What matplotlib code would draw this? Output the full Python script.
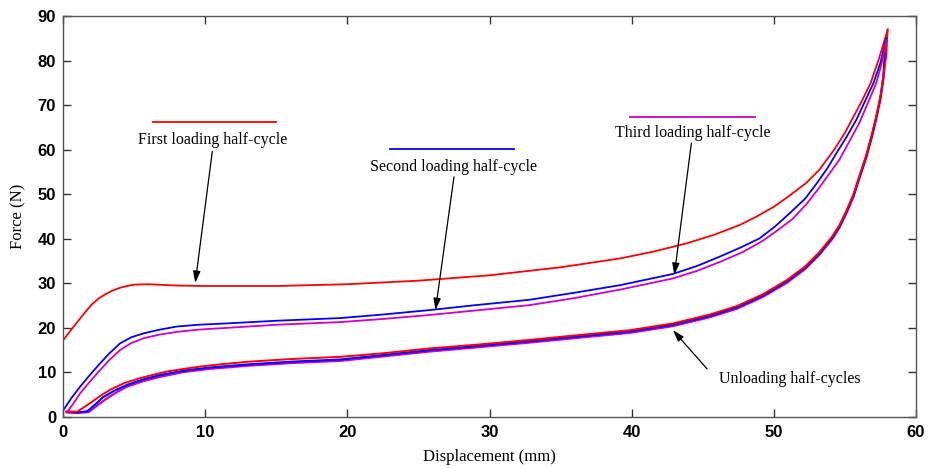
import matplotlib
matplotlib.use("Agg")
import matplotlib.pyplot as plt

# ---- data ----
load1_x = [0, 0.5, 1, 1.5, 2, 2.5, 3, 3.5, 4, 4.5, 5, 6, 8, 10, 15, 20, 25, 30, 35, 39.2, 41.5, 43.9, 45.8, 47.6, 48.8, 50.0, 50.9, 52.3, 53.2, 54.2, 55.0, 55.6, 56.2, 56.8, 57.4, 58.0]
load1_y = [17.2, 19.3, 21.3, 23.3, 25.2, 26.6, 27.6, 28.4, 29.0, 29.4, 29.7, 29.8, 29.5, 29.4, 29.4, 29.8, 30.6, 31.8, 33.6, 35.6, 37.1, 39.0, 40.9, 43.1, 45.0, 47.2, 49.2, 52.6, 55.5, 59.8, 63.8, 67.4, 71.0, 74.9, 80.5, 86.8]

load2_x = [0.1, 0.6, 1.2, 1.8, 2.4, 3.2, 4.0, 4.8, 5.7, 6.8, 8.0, 9.5, 11.5, 15, 19.5, 22.5, 25.8, 29, 32.8, 36, 39.2, 42.9, 44.6, 46.2, 47.7, 49.0, 50.1, 51.1, 52.2, 53.1, 53.8, 54.4, 55.1, 55.8, 56.4, 57.0, 57.5, 57.9]
load2_y = [1.9, 4.3, 6.8, 9.1, 11.3, 14.1, 16.5, 17.9, 18.8, 19.6, 20.3, 20.7, 21.0, 21.6, 22.2, 23.0, 24.0, 25.1, 26.3, 27.9, 29.6, 32.1, 33.9, 36.0, 38.1, 40.1, 42.8, 45.7, 49.0, 52.8, 56.0, 59.2, 62.8, 66.7, 70.8, 74.9, 79.5, 85.0]

load3_x = [0.3, 0.7, 1.2, 1.8, 2.4, 3.2, 4.0, 4.8, 5.7, 6.8, 8.0, 9.5, 11.5, 15, 19.5, 22.5, 25.8, 29, 32.8, 36, 39.2, 42.9, 44.6, 46.2, 47.8, 49.2, 50.3, 51.3, 52.3, 53.2, 53.9, 54.6, 55.3, 56.0, 56.6, 57.2, 57.6, 57.9]
load3_y = [1.2, 2.9, 5.3, 7.6, 9.8, 12.6, 15.0, 16.6, 17.7, 18.5, 19.1, 19.6, 20.0, 20.7, 21.3, 22.0, 22.9, 23.9, 25.1, 26.7, 28.6, 31.1, 32.8, 34.8, 37.0, 39.5, 42.0, 44.4, 47.8, 51.5, 54.6, 57.7, 61.8, 65.9, 70.4, 74.9, 79.5, 84.5]

unl1_x = [0.2, 1.0, 1.9, 2.6, 3.3, 4.3, 5.4, 6.5, 7.3, 8.5, 9.6, 11, 13, 16, 19.5, 22.5, 25.8, 29, 32.8, 36, 39.9, 42.9, 45.5, 47.4, 49.2, 50.9, 52.2, 53.2, 54.1, 54.6, 55.1, 55.6, 56.0, 56.5, 56.9, 57.2, 57.5, 57.7, 57.9, 58.0]
unl1_y = [1.2, 1.2, 3.1, 4.7, 6.1, 7.6, 8.7, 9.6, 10.2, 10.8, 11.3, 11.8, 12.4, 13.0, 13.5, 14.3, 15.4, 16.2, 17.3, 18.3, 19.5, 21.0, 23.0, 24.9, 27.5, 30.7, 33.8, 37.0, 40.5, 43.0, 46.3, 50.0, 54.0, 58.8, 63.5, 67.5, 72.0, 76.5, 81.0, 87.0]

unl2_x = [0.3, 1.0, 1.7, 2.3, 2.8, 3.6, 4.5, 5.6, 6.8, 8.5, 10.3, 13, 16, 19.5, 22.5, 25.8, 29, 32.8, 36, 39.9, 42.9, 45.5, 47.4, 49.2, 50.9, 52.2, 53.2, 54.1, 54.6, 55.1, 55.6, 56.0, 56.5, 56.9, 57.2, 57.5, 57.7, 57.9]
unl2_y = [1.2, 1.0, 1.3, 2.9, 4.4, 5.9, 7.2, 8.4, 9.4, 10.4, 11.1, 11.8, 12.4, 12.9, 13.9, 15.0, 15.9, 17.0, 18.0, 19.2, 20.7, 22.7, 24.6, 27.2, 30.4, 33.5, 36.7, 40.2, 42.7, 46.0, 49.7, 53.7, 58.5, 63.2, 67.2, 71.7, 76.2, 85.0]

unl3_x = [0.3, 1.0, 1.8, 2.5, 3.1, 3.8, 4.5, 5.6, 6.8, 8.5, 10.3, 13, 16, 19.5, 22.5, 25.8, 29, 32.8, 36, 39.9, 42.9, 45.5, 47.4, 49.2, 50.9, 52.2, 53.2, 54.1, 54.6, 55.1, 55.6, 56.0, 56.5, 56.9, 57.2, 57.5, 57.7, 57.9]
unl3_y = [1.0, 0.9, 1.1, 2.8, 4.2, 5.6, 6.8, 8.0, 9.0, 10.1, 10.8, 11.5, 12.1, 12.6, 13.6, 14.7, 15.6, 16.7, 17.7, 18.9, 20.4, 22.4, 24.3, 26.9, 30.1, 33.2, 36.4, 39.9, 42.4, 45.7, 49.4, 53.4, 58.2, 62.9, 66.9, 71.4, 75.9, 84.5]

x_ticks = [0, 10, 20, 30, 40, 50, 60]
y_ticks = [0, 10, 20, 30, 40, 50, 60, 70, 80, 90]

labels = ["First loading half-cycle", "Second loading half-cycle",
          "Third loading half-cycle", "Unloading half-cycles"]
label_pos = [(10.5, 62.2), (27.5, 56.1), (44.3, 63.7), (51.1, 8.5)]
key_lines = [((6.3, 15.0), 66.2, "#ff0000"), ((23.0, 31.7), 60.1, "#0000ff"), ((39.9, 48.7), 67.4, "#cc00cc")]
arrow_from = [(10.5, 59.6), (27.5, 53.9), (44.2, 61.5), (45.3, 10.8)]
arrow_to = [(9.3, 30.1), (26.2, 24.0), (43.0, 31.9), (42.9, 19.5)]

RED, BLUE, MAG = "#ff0000", "#0000ff", "#cc00cc"

fig = plt.figure(figsize=(9.31, 4.68), dpi=100)
ax = fig.add_axes([0.0677, 0.109, 0.9162, 0.8568])

ax.plot(unl3_x, unl3_y, color=MAG, lw=1.6)
ax.plot(unl2_x, unl2_y, color=BLUE, lw=1.5)
ax.plot(unl1_x, unl1_y, color=RED, lw=1.4)
ax.plot(load1_x, load1_y, color=RED, lw=1.3)
ax.plot(load2_x, load2_y, color=BLUE, lw=1.3)
ax.plot(load3_x, load3_y, color=MAG, lw=1.3)

for (xr, yv, c) in key_lines:
    ax.plot(xr, [yv, yv], color=c, lw=1.3)

serif = ["Liberation Serif", "DejaVu Serif"]
for lab, (tx, ty) in zip(labels, label_pos):
    ax.text(tx, ty, lab, ha="center", va="center", fontsize=11.5, family=serif)

for s, e in zip(arrow_from, arrow_to):
    ax.annotate("", xy=e, xytext=s,
                arrowprops=dict(arrowstyle="-|>,head_length=0.7,head_width=0.22",
                                color="black", lw=0.9, shrinkA=0, shrinkB=0))

ax.set_xlim(0, 60)
ax.set_ylim(0, 90)
ax.set_xticks(x_ticks)
ax.set_yticks(y_ticks)
ax.tick_params(direction="in", length=6, width=1, top=True, right=True,
               labelsize=12, color="#333333")
ax.tick_params(axis="x", pad=6)
ax.tick_params(axis="y", pad=5)
for lab in ax.get_xticklabels() + ax.get_yticklabels():
    lab.set_family(["Liberation Sans", "DejaVu Sans"])
    lab.set_fontweight("bold")
for sp in ax.spines.values():
    sp.set_color("#555555")
    sp.set_linewidth(1.0)

ax.set_xlabel("Displacement (mm)", fontsize=12, family=serif, labelpad=6)
ax.set_ylabel("Force (N)", fontsize=12, family=serif, labelpad=8)

fig.savefig("out.png", dpi=100)
